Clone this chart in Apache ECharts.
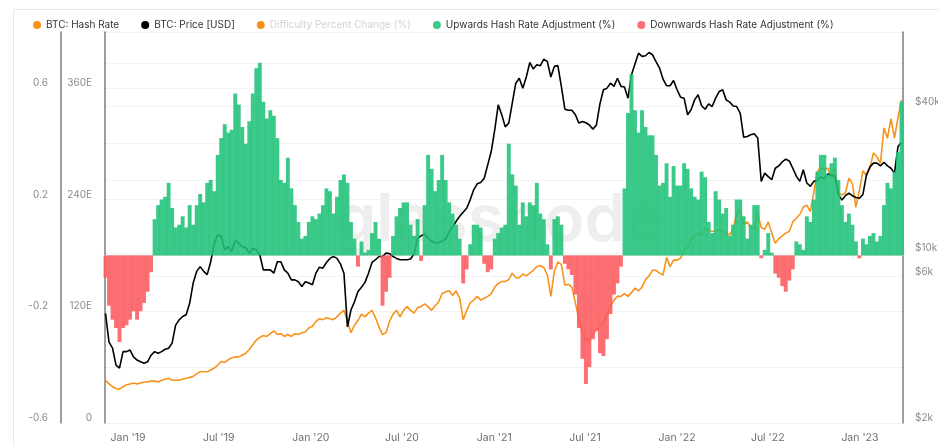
<!DOCTYPE html>
<html>
<head>
<meta charset="utf-8">
<title>BTC Hash Rate Adjustments</title>
<script src="https://cdn.jsdelivr.net/npm/echarts@6/dist/echarts.min.js"></script>
<style>
  html, body { margin: 0; padding: 0; background: #fff; }
  #chart { width: 938px; height: 446px; }
</style>
</head>
<body>
<div id="chart"></div>
<script>
// one sample per week, first week starts 2018-11-17
var weekStart = Date.UTC(2018, 10, 17)

// BTC hash rate, EH/s
var hashRate = [
  46, 42, 39, 37, 36, 39, 41, 42, 43, 42, 43, 44, 44, 45, 45, 44, 46, 47, 48, 46,
  46, 46, 47, 48, 49, 50, 53, 55, 55, 55, 57, 59, 62, 66, 65, 68, 70, 71, 71, 73,
  75, 79, 84, 89, 92, 94, 93, 96, 99, 95, 96, 93, 95, 93, 96, 95, 97,
  98, 102, 104, 109, 112, 111, 113, 112, 111, 114, 118, 121, 109, 97, 105, 110, 117, 114, 118, 121,
  113, 103, 95, 97, 109, 117, 121, 114, 121, 125, 121, 118, 124, 125, 128, 125, 121, 126, 130, 139,
  141, 142, 137, 142, 134, 111, 121, 129, 132, 136, 132, 134, 136, 139, 146, 150,
  152, 152, 154, 161, 156, 156, 160, 158, 161, 164, 168, 169, 167, 159, 136, 163, 173, 170, 148, 149,
  146, 129, 111, 96, 89, 89, 95, 100, 103, 109, 116, 125, 132, 136, 136, 139, 136, 140, 145, 142,
  146, 154, 158, 164, 164, 161, 159, 178, 168, 175, 175, 177, 186, 189, 197, 201, 204, 201,
  209, 207, 206, 206, 207, 206, 204, 202, 209, 225, 229, 213, 216, 210, 209, 225, 210, 208, 216, 204,
  193, 198, 201, 204, 206, 216, 220, 224, 232, 234, 227, 248, 270, 275, 272, 274, 263, 274, 247, 245,
  247, 263, 257, 232, 250, 271, 266, 274, 290, 286, 279, 317, 306, 327, 306, 328, 347
]

// BTC price, USD
var price = [
  5650, 4300, 4060, 3460, 3360, 3930, 3930, 3990, 3740, 3630, 3570, 3520, 3570, 3800, 3930, 3870, 3930, 4020, 4060, 4260,
  5050, 5310, 5480, 5570, 6210, 7520, 8400, 8790, 8400, 8150, 9200, 10950, 11880, 11690, 10300, 10620, 10140, 11320, 10950, 10620,
  10560, 9980, 10450, 10300, 9830, 8520, 8520, 8520, 8260, 9200, 9200, 8520, 8260, 7750, 7750, 7620, 7280,
  7620, 7520, 7400, 8260, 8740, 8660, 9140, 9500, 9670, 9500, 9020, 8260, 4970, 5830, 6300, 6940, 7230, 7570, 8260, 9140,
  9380, 9670, 9670, 9990, 9940, 9670, 9500, 9380, 9380, 9380, 9450, 9940, 11500, 11760, 11970, 11500, 11200, 11000, 11000, 11200,
  11400, 12250, 12800, 13500, 14150, 14700, 15280, 16540, 18180, 19240, 19490, 20300, 23020, 26120, 32090, 40640,
  37000, 33000, 34200, 41300, 49900, 52300, 47600, 52900, 60700, 57000, 59400, 58900, 62700, 61200, 52900, 58500, 58900, 48400, 39000, 38600,
  38600, 37000, 34200, 34700, 34300, 33600, 32300, 33600, 41000, 46900, 47600, 49900, 48400, 52300, 48400, 48100, 43300, 54000, 59900, 66300,
  64300, 64700, 66700, 65300, 61200, 57600, 51800, 48700, 48700, 51200, 46900, 43700, 43300, 37000, 38800, 42600, 44700, 40300,
  39000, 41000, 40000, 43300, 46100, 46900, 42600, 41700, 40200, 40000, 37600, 29900, 30100, 30600, 30900, 29700, 19700, 21300, 20600, 20000,
  22300, 22800, 23700, 24300, 23900, 22300, 20700, 19700, 22000, 19400, 18800, 19700, 19900, 20500, 20300, 21100, 20900, 20700, 17400, 16500,
  17200, 17600, 17200, 16900, 16800, 17400, 20900, 22600, 23400, 23400, 22800, 23600, 22800, 22300, 21300, 27400, 28500
]

// hash rate adjustment (fraction), split into up / down bars
var hashAdj = [
  -0.08, -0.18, -0.23, -0.26, -0.31, -0.26, -0.25, -0.23, -0.20, -0.23, -0.20, -0.17, -0.13, -0.06, 0.13, 0.18, 0.20, 0.21, 0.26, 0.17,
  0.10, 0.11, 0.14, 0.10, 0.18, 0.11, 0.18, 0.22, 0.19, 0.26, 0.27, 0.23, 0.36, 0.42, 0.47, 0.44, 0.45, 0.58, 0.54, 0.46,
  0.40, 0.48, 0.58, 0.67, 0.69, 0.55, 0.49, 0.52, 0.50, 0.42, 0.27, 0.26, 0.35, 0.24, 0.18, 0.12, 0.06,
  0.07, 0.12, 0.14, 0.13, 0.15, 0.18, 0.24, 0.23, 0.15, 0.21, 0.27, 0.29, 0.26, 0.12, 0.06, -0.04, 0.05, 0.01, 0.02, 0.08,
  0.12, 0.06, -0.18, -0.13, -0.08, 0.07, 0.14, 0.17, 0.19, 0.19, 0.11, 0.07, 0.13, -0.02, 0.18, 0.36, 0.31, 0.23, 0.27, 0.36,
  0.27, 0.19, 0.15, 0.11, 0.06, -0.10, -0.05, 0.04, 0.11, 0.11, 0.10, -0.03, -0.06, -0.05, 0.06, 0.08,
  0.10, 0.11, 0.40, 0.29, 0.25, 0.11, 0.19, 0.14, 0.19, 0.18, 0.26, 0.15, 0.13, 0.04, -0.05, 0.13, 0.14, 0.11, -0.03, -0.05,
  -0.07, -0.14, -0.26, -0.37, -0.46, -0.40, -0.30, -0.27, -0.35, -0.36, -0.30, -0.21, -0.14, -0.10, -0.04, 0.24, 0.51, 0.65, 0.52, 0.44,
  0.52, 0.46, 0.43, 0.43, 0.36, 0.25, 0.26, 0.33, 0.21, 0.32, 0.25, 0.25, 0.33, 0.31, 0.24, 0.21, 0.20, 0.30,
  0.28, 0.12, 0.08, 0.23, 0.20, 0.15, 0.17, 0.07, 0.11, 0.20, 0.20, 0.14, 0.06, 0.11, 0.18, 0.18, -0.01, 0.02, 0.08, 0.01,
  -0.065, -0.08, -0.11, -0.13, -0.09, -0.05, 0.05, 0.04, 0.02, 0.14, 0.12, 0.20, 0.30, 0.36, 0.36, 0.29, 0.33, 0.35, 0.27, 0.18,
  0.12, 0.15, 0.11, 0.05, -0.01, 0.06, 0.04, 0.07, 0.08, 0.05, 0.07, 0.18, 0.26, 0.24, 0.30, 0.37, 0.55
]

var monthTicks = ['2019-01-01', '2019-07-01', '2020-01-01', '2020-07-01', '2021-01-01',
  '2021-07-01', '2022-01-01', '2022-07-01', '2023-01-01']
var monthNames = ['Jan', 'Feb', 'Mar', 'Apr', 'May', 'Jun', 'Jul', 'Aug', 'Sep', 'Oct', 'Nov', 'Dec']
var diffTicks = [-0.6, -0.2, 0.2, 0.6]
var hashTicks = [0, 120, 240, 360]
// the reference prints "$6k" on the 8k grid line
var priceTicks = [2000, 8000, 10000, 40000]
var priceTickLabels = ['$2k', '$6k', '$10k', '$40k']
var priceGrid = [8000, 10000, 20000, 40000, 60000]

var weeks = hashAdj.map(function (v, i) { return weekStart + i * 7 * 864e5 })
function pairs(arr) {
  return arr.map(function (v, i) { return [weeks[i], v] })
}
var upAdj = hashAdj.map(function (v, i) { return [weeks[i], v >= 0 ? v : null] })
var downAdj = hashAdj.map(function (v, i) { return [weeks[i], v < 0 ? v : null] })

var axisGray = '#8a8a8a'
var font = 'Inter, "Noto Sans", sans-serif'

var chart = echarts.init(document.getElementById('chart'))
chart.setOption({
  animation: false,
  textStyle: { fontFamily: font },
  grid: { left: 105, right: 35, top: 32, bottom: 23, outerBoundsMode: 'none' },
  legend: {
    left: 28,
    top: 15,
    icon: 'circle',
    itemWidth: 8,
    itemHeight: 8,
    itemGap: 22,
    textStyle: { fontSize: 10, color: '#333', fontFamily: font },
    data: [
      'BTC: Hash Rate',
      'BTC: Price [USD]',
      { name: 'Difficulty Percent Change (%)', textStyle: { color: '#d2d2d2' } },
      'Upwards Hash Rate Adjustment (%)',
      'Downwards Hash Rate Adjustment (%)'
    ]
  },
  graphic: [
    {
      type: 'rect', left: 11, top: 7, silent: true, z: -10,
      shape: { width: 960, height: 460 },
      style: { fill: 'none', stroke: '#e9e9e9', lineWidth: 1 }
    },
    {
      type: 'text', left: 335, top: 188, silent: true, z: -5,
      style: { text: 'glassnode', fontSize: 66, fontWeight: 600, fontFamily: font, fill: '#eeeeee' }
    }
  ],
  xAxis: {
    // dates as millisecond values, so the label positions can be fixed
    type: 'value',
    min: Date.UTC(2018, 10, 16),
    max: Date.UTC(2023, 2, 28),
    axisLine: { lineStyle: { color: '#e3e3e3' } },
    axisTick: { show: false },
    splitLine: { show: false },
    axisLabel: {
      customValues: monthTicks.map(function (d) { return Date.parse(d + 'T00:00:00Z') }),
      color: '#6e6e6e',
      fontSize: 10.5,
      margin: 9,
      formatter: function (v) {
        var d = new Date(v)
        return monthNames[d.getUTCMonth()] + " '" + String(d.getUTCFullYear()).slice(2)
      }
    }
  },
  yAxis: [
    {
      // difficulty percent change
      type: 'value',
      position: 'left',
      offset: 44,
      min: -0.6,
      max: 0.8,
      interval: 0.2,
      axisLine: { show: true, lineStyle: { color: '#7d7d7d', width: 1.5 } },
      axisTick: { show: false },
      splitLine: { lineStyle: { color: '#f1f1f1' } },
      axisLabel: {
        customValues: diffTicks,
        color: axisGray,
        fontSize: 10,
        margin: 13,
        verticalAlign: 'bottom',
        formatter: function (v) { return v.toFixed(1) }
      }
    },
    {
      // hash rate
      type: 'value',
      position: 'left',
      min: 0,
      max: 420,
      interval: 60,
      axisLine: { show: true, lineStyle: { color: '#7d7d7d', width: 1.5 } },
      axisTick: { show: false },
      splitLine: { show: false },
      axisLabel: {
        customValues: hashTicks,
        color: axisGray,
        fontSize: 10,
        margin: 13,
        verticalAlign: 'bottom',
        formatter: function (v) { return v === 0 ? '0' : Math.round(v) + 'E' }
      }
    },
    {
      // price, log scale
      type: 'log',
      position: 'right',
      min: 2000,
      max: 81000,
      axisLine: { show: true, lineStyle: { color: '#7d7d7d', width: 1.5 } },
      axisTick: { show: false, customValues: priceGrid },
      splitLine: { show: true, lineStyle: { color: '#f3f3f3' } },
      axisLabel: {
        customValues: priceTicks,
        color: axisGray,
        fontSize: 10,
        margin: 12,
        verticalAlign: 'bottom',
        formatter: function (v) {
          var best = 0
          for (var k = 1; k < priceTicks.length; k++) {
            if (Math.abs(priceTicks[k] - v) < Math.abs(priceTicks[best] - v)) best = k
          }
          return priceTickLabels[best]
        }
      }
    }
  ],
  series: [
    {
      name: 'BTC: Hash Rate',
      type: 'line',
      yAxisIndex: 1,
      data: pairs(hashRate),
      symbol: 'none',
      color: '#f7931a',
      lineStyle: { width: 1.6, color: '#f7931a' },
      z: 1
    },
    {
      name: 'BTC: Price [USD]',
      type: 'line',
      yAxisIndex: 2,
      data: pairs(price),
      symbol: 'none',
      color: '#000',
      lineStyle: { width: 1.6, color: '#000' },
      z: 1
    },
    {
      // hidden in the reference, only its legend entry shows
      name: 'Difficulty Percent Change (%)',
      type: 'line',
      yAxisIndex: 0,
      data: [],
      color: '#f7931a'
    },
    {
      name: 'Upwards Hash Rate Adjustment (%)',
      type: 'bar',
      yAxisIndex: 0,
      data: upAdj,
      barWidth: 3.9,
      barGap: '-100%',
      color: '#1fc277',
      itemStyle: { color: '#1fc277', opacity: 0.88 },
      z: 2
    },
    {
      name: 'Downwards Hash Rate Adjustment (%)',
      type: 'bar',
      yAxisIndex: 0,
      data: downAdj,
      barWidth: 3.9,
      barGap: '-100%',
      color: '#fb5a5e',
      itemStyle: { color: '#fb5a5e', opacity: 0.88 },
      z: 2
    }
  ]
})
</script>
</body>
</html>
